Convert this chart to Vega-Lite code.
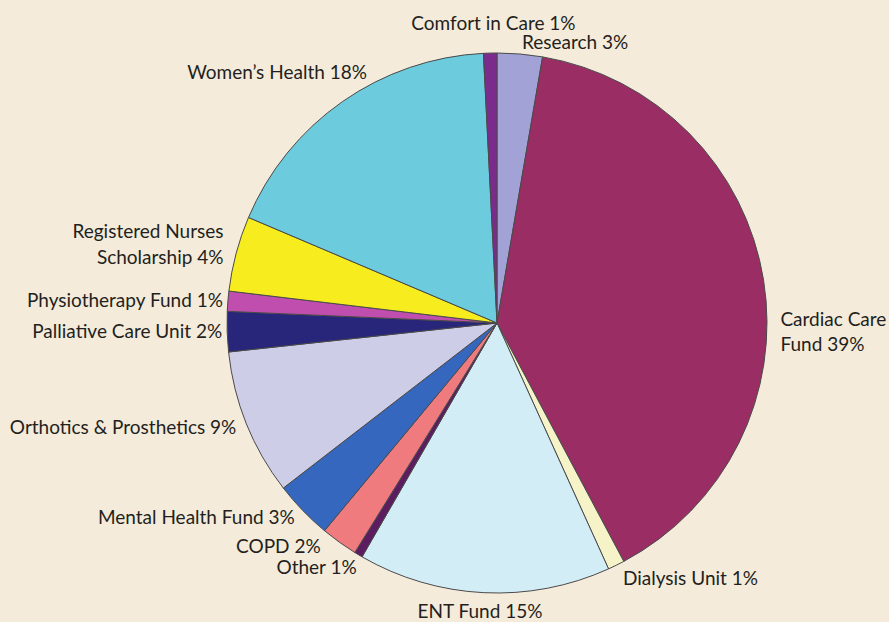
{
  "$schema": "https://vega.github.io/schema/vega-lite/v6.json",
  "autosize": {"type": "none"},
  "width": 540,
  "height": 540,
  "padding": {"left": 227, "top": 53, "right": 122, "bottom": 29},
  "background": "#f4ebdb",
  "config": {"view": {"stroke": null}, "text": {"font": "Lato", "fontSize": 19, "color": "#231f20", "baseline": "middle"}},
  "data": {
    "values": [
      {"idx": 1, "name": "Research", "value": 2.7, "label": "Research 3%"},
      {"idx": 2, "name": "Cardiac Care Fund", "value": 39.5, "label": "Cardiac Care\nFund 39%"},
      {"idx": 3, "name": "Dialysis Unit", "value": 1.0, "label": "Dialysis Unit 1%"},
      {"idx": 4, "name": "ENT Fund", "value": 15.1, "label": "ENT Fund 15%"},
      {"idx": 5, "name": "Other", "value": 0.5, "label": "Other 1%"},
      {"idx": 6, "name": "COPD", "value": 2.2, "label": "COPD 2%"},
      {"idx": 7, "name": "Mental Health Fund", "value": 3.5, "label": "Mental Health Fund 3%"},
      {"idx": 8, "name": "Orthotics & Prosthetics", "value": 8.75, "label": "Orthotics & Prosthetics 9%"},
      {"idx": 9, "name": "Palliative Care Unit", "value": 2.4, "label": "Palliative Care Unit 2%"},
      {"idx": 10, "name": "Physiotherapy Fund", "value": 1.2, "label": "Physiotherapy Fund 1%"},
      {"idx": 11, "name": "Registered Nurses Scholarship", "value": 4.5, "label": "Registered Nurses\nScholarship 4%"},
      {"idx": 12, "name": "Women’s Health", "value": 17.8, "label": "Women’s Health 18%"},
      {"idx": 13, "name": "Comfort in Care", "value": 0.8, "label": "Comfort in Care 1%"}
    ]
  },
  "encoding": {
    "theta": {"field": "value", "type": "quantitative", "stack": true},
    "order": {"field": "idx", "type": "quantitative", "sort": "ascending"},
    "detail": {"field": "name", "type": "nominal"}
  },
  "layer": [
    {
      "mark": {"type": "arc", "outerRadius": 270, "stroke": "#4a4a4a", "strokeWidth": 1},
      "encoding": {
        "color": {
          "field": "name", "type": "nominal", "legend": null,
          "scale": {
            "domain": ["Research", "Cardiac Care Fund", "Dialysis Unit", "ENT Fund", "Other", "COPD", "Mental Health Fund", "Orthotics & Prosthetics", "Palliative Care Unit", "Physiotherapy Fund", "Registered Nurses Scholarship", "Women’s Health", "Comfort in Care"],
            "range": ["#a2a2d6", "#9a2e64", "#f7f3c8", "#d3edf6", "#5c1d60", "#ef7b7e", "#3567be", "#cdcde8", "#27267a", "#c04eae", "#f6ec1e", "#6ccbdc", "#7b2b8c"]
          }
        }
      }
    },
    {
      "mark": {"type": "text", "radius": 283, "align": "right", "dx": 5, "dy": 2},
      "encoding": {"text": {"condition": {"test": "datum.idx == 5", "field": "label"}, "value": ""}}
    },
    {
      "mark": {"type": "text", "radius": 283, "align": "right", "dx": -11, "dy": -6},
      "encoding": {"text": {"condition": {"test": "datum.idx == 6", "field": "label"}, "value": ""}}
    },
    {
      "mark": {"type": "text", "radius": 281, "align": "right"},
      "encoding": {"text": {"condition": {"test": "datum.idx == 7 || datum.idx == 8", "field": "label"}, "value": ""}}
    },
    {
      "mark": {"type": "text", "radius": 275, "align": "right"},
      "encoding": {"text": {"condition": {"test": "datum.idx == 9 || datum.idx == 10", "field": "label"}, "value": ""}}
    },
    {
      "mark": {"type": "text", "radius": 283, "align": "right", "dy": -18, "lineBreak": "\n", "lineHeight": 26},
      "encoding": {"text": {"condition": {"test": "datum.idx == 11", "field": "label"}, "value": ""}}
    },
    {
      "mark": {"type": "text", "radius": 283, "align": "left", "dx": 1, "dy": 2},
      "encoding": {"text": {"condition": {"test": "datum.idx == 1 || datum.idx == 3", "field": "label"}, "value": ""}}
    },
    {
      "mark": {"type": "text", "radius": 283, "align": "left", "dx": 4, "dy": 42, "lineBreak": "\n", "lineHeight": 25},
      "encoding": {"text": {"condition": {"test": "datum.idx == 2", "field": "label"}, "value": ""}}
    },
    {
      "mark": {"type": "text", "radius": 283, "align": "right", "dx": 32, "dy": -18},
      "encoding": {"text": {"condition": {"test": "datum.idx == 12", "field": "label"}, "value": ""}}
    },
    {
      "mark": {"type": "text", "radius": 301, "align": "center", "dx": 4, "dy": 2},
      "encoding": {"text": {"condition": {"test": "datum.idx == 13", "field": "label"}, "value": ""}}
    },
    {
      "mark": {"type": "text", "radius": 289, "align": "center", "dx": -3, "dy": 0},
      "encoding": {"text": {"condition": {"test": "datum.idx == 4", "field": "label"}, "value": ""}}
    }
  ]
}
